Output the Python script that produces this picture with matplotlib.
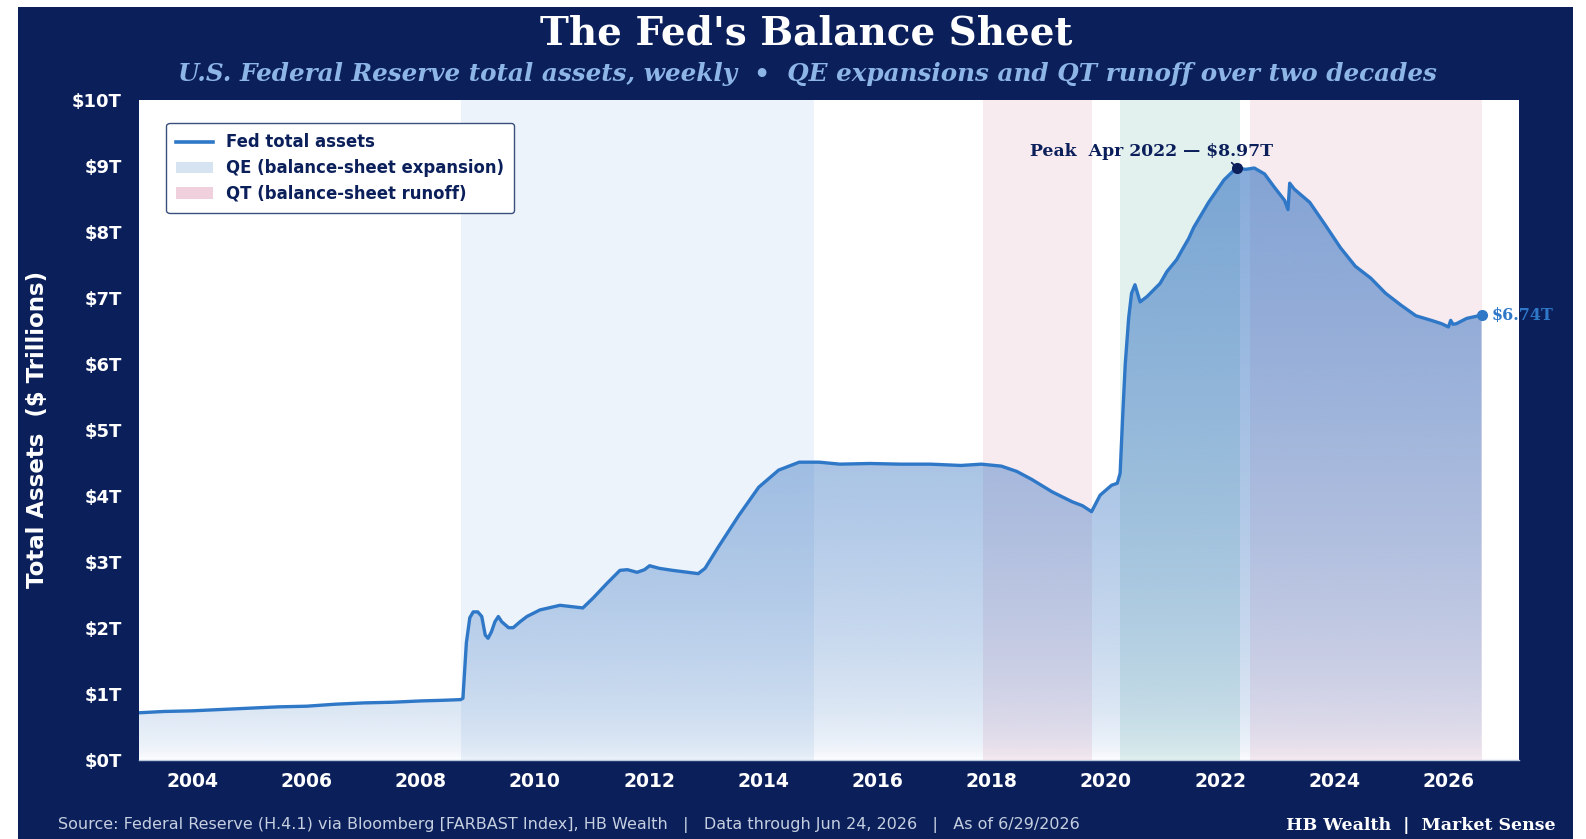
import numpy as np
import matplotlib
matplotlib.use("Agg")
import matplotlib.pyplot as plt
from matplotlib.lines import Line2D
from matplotlib.patches import Patch, PathPatch, Rectangle

# Fed total assets ($T) (decimal years)
dates = [2003.06, 2003.50, 2004.00, 2004.50, 2005.00, 2005.50, 2006.00, 2006.50,
         2007.00, 2007.50, 2008.00, 2008.40, 2008.70, 2008.74, 2008.80, 2008.86,
         2008.92, 2009.00, 2009.07, 2009.13, 2009.18, 2009.24, 2009.30, 2009.36,
         2009.42, 2009.54, 2009.62, 2009.74, 2009.86, 2010.09, 2010.44, 2010.84,
         2011.02, 2011.26, 2011.49, 2011.62, 2011.79, 2011.92, 2012.01, 2012.18,
         2012.41, 2012.68, 2012.86, 2012.98, 2013.21, 2013.57, 2013.92, 2014.27,
         2014.63, 2014.98, 2015.34, 2015.87, 2016.40, 2016.93, 2017.46, 2017.82,
         2018.17, 2018.44, 2018.70, 2019.06, 2019.41, 2019.59, 2019.75, 2019.90,
         2020.10, 2020.20, 2020.25, 2020.30, 2020.34, 2020.40, 2020.45, 2020.51,
         2020.60, 2020.72, 2020.95, 2021.07, 2021.24, 2021.35, 2021.45, 2021.54,
         2021.80, 2022.07, 2022.25, 2022.30, 2022.45, 2022.60, 2022.78, 2022.95,
         2023.13, 2023.19, 2023.22, 2023.30, 2023.57, 2023.84, 2024.11, 2024.37,
         2024.64, 2024.90, 2025.17, 2025.43, 2025.70, 2025.88, 2026.00, 2026.04,
         2026.08, 2026.14, 2026.32, 2026.58]
assets = [0.71, 0.73, 0.74, 0.76, 0.78, 0.80, 0.81, 0.84,
          0.86, 0.87, 0.89, 0.90, 0.91, 0.93, 1.77, 2.15,
          2.24, 2.24, 2.17, 1.89, 1.84, 1.94, 2.09, 2.17,
          2.09, 2.00, 2.00, 2.09, 2.17, 2.27, 2.34, 2.30,
          2.45, 2.67, 2.87, 2.88, 2.84, 2.88, 2.94, 2.90,
          2.87, 2.84, 2.82, 2.90, 3.22, 3.70, 4.13, 4.39,
          4.51, 4.51, 4.48, 4.49, 4.48, 4.48, 4.46, 4.48,
          4.45, 4.37, 4.25, 4.06, 3.91, 3.85, 3.76, 4.01,
          4.16, 4.19, 4.34, 5.30, 6.00, 6.70, 7.07, 7.20,
          6.94, 7.02, 7.22, 7.40, 7.58, 7.75, 7.90, 8.07,
          8.45, 8.79, 8.94, 8.97, 8.95, 8.97, 8.88, 8.68,
          8.48, 8.34, 8.74, 8.65, 8.45, 8.11, 7.76, 7.48,
          7.30, 7.07, 6.89, 6.73, 6.66, 6.61, 6.56, 6.66,
          6.60, 6.61, 6.69, 6.74]

# policy regimes
span_starts = [2008.71, 2017.84, 2020.24, 2022.53]
span_ends = [2014.89, 2019.75, 2022.35, 2026.58]
span_colors = ['#edf3fa', '#f8ebf0', '#e2f1ee', '#f8ebf0']

peak_date, peak_val = 2022.30, 8.97
year_ticks = list(range(2004, 2027, 2))
value_ticks = list(range(0, 11))

NAVY = '#0b1f5b'
LINE = '#2f78c8'

fig = plt.figure(figsize=(15.86, 8.39), dpi=100, facecolor='white')
fig.add_artist(Rectangle((18 / 1586, 0), (1573 - 18) / 1586, 1 - 7 / 839,
                         transform=fig.transFigure, facecolor=NAVY,
                         edgecolor='none', zorder=-10))

ax = fig.add_axes([0.0874, 0.0946, 0.8705, 0.7861])
ax.set_facecolor('white')

for s, e, c in zip(span_starts, span_ends, span_colors):
    ax.axvspan(s, e, color=c, lw=0, zorder=0)

# gradient fill clipped under the curve
poly = ax.fill_between(dates, assets, 0, facecolor='none', edgecolor='none')
clip = PathPatch(poly.get_paths()[0], transform=ax.transData,
                 facecolor='none', edgecolor='none')
ax.add_patch(clip)
yy = np.linspace(0, 10, 400)
grad = np.zeros((len(yy), 1, 4))
grad[:, 0, :3] = matplotlib.colors.to_rgb('#2f6fc0')
grad[:, 0, 3] = np.clip(0.58 * np.sqrt(yy / 9.0), 0, 0.6)
im = ax.imshow(grad, extent=[dates[0], dates[-1], 0, 10], origin='lower',
               aspect='auto', zorder=1, interpolation='bilinear')
im.set_clip_path(clip)

ax.plot(dates, assets, color=LINE, lw=2.4, zorder=3, solid_joinstyle='round')

# peak and latest markers
ax.plot([peak_date], [peak_val], 'o', color=NAVY, ms=7, zorder=5)
ax.annotate('Peak  Apr 2022 — $8.97T', xy=(peak_date, peak_val),
            xytext=(-62, 12), textcoords='offset points', ha='center', va='center',
            fontsize=12.4, fontweight='bold', family='DejaVu Serif', color=NAVY,
            arrowprops=dict(arrowstyle='-', color=NAVY, lw=1.2,
                            relpos=(0.82, 0.0), shrinkA=0, shrinkB=2), zorder=6)
ax.plot([dates[-1]], [assets[-1]], 'o', color=LINE, ms=7, zorder=5, clip_on=False)
ax.annotate(f'${assets[-1]:.2f}T', xy=(dates[-1], assets[-1]), xytext=(7, 0),
            textcoords='offset points', ha='left', va='center', fontsize=11.5,
            fontweight='bold', family='DejaVu Serif', color=LINE,
            annotation_clip=False, zorder=6)

ax.set_xlim(2003.06, 2027.24)
ax.set_ylim(0, 10)
ax.set_xticks(year_ticks)
ax.set_xticklabels([str(y) for y in year_ticks])
ax.set_yticks(value_ticks)
ax.set_yticklabels([f'${v}T' for v in value_ticks])
ax.tick_params(length=0, colors='white', labelsize=13)
ax.tick_params(axis='x', pad=9, labelsize=13.5)
ax.tick_params(axis='y', pad=12)
for lab in ax.get_xticklabels() + ax.get_yticklabels():
    lab.set_fontweight('bold')
for side in ['top', 'right', 'left']:
    ax.spines[side].set_visible(False)
ax.spines['bottom'].set_color('#b9c7dc')
ax.spines['bottom'].set_linewidth(1.0)

ax.set_ylabel('Total Assets  ($ Trillions)', color='white', fontsize=16.5,
              fontweight='bold')
ax.yaxis.set_label_coords(-0.065, 0.5)

handles = [Line2D([0], [0], color=LINE, lw=2.6),
           Patch(facecolor='#d6e4f2', edgecolor='none'),
           Patch(facecolor='#f0d0dc', edgecolor='none')]
labels = ['Fed total assets', 'QE (balance-sheet expansion)', 'QT (balance-sheet runoff)']
leg = ax.legend(handles, labels, loc='upper left', bbox_to_anchor=(0.02, 0.965),
                borderaxespad=0, frameon=True, fancybox=True,
                prop={'weight': 'bold', 'size': 11.9}, labelcolor=NAVY,
                borderpad=0.62, handlelength=2.2, labelspacing=0.47)
leg.get_frame().set_edgecolor('#3b4f7e')
leg.get_frame().set_linewidth(1.0)
leg.get_frame().set_alpha(1)
leg.set_zorder(10)

fig.text(0.508, 0.960, "The Fed's Balance Sheet", ha='center', va='center',
         color='white', fontsize=28, fontweight='bold', family='DejaVu Serif')
fig.text(0.509, 0.912,
         'U.S. Federal Reserve total assets, weekly  •  QE expansions and QT runoff over two decades',
         ha='center', va='center', color='#8db5e6', fontsize=17.7,
         fontweight='bold', style='italic', family='DejaVu Serif')
fig.text(0.0364, 0.0162,
         'Source: Federal Reserve (H.4.1) via Bloomberg [FARBAST Index], HB Wealth   |   '
         'Data through Jun 24, 2026   |   As of 6/29/2026',
         ha='left', va='center', color='#c5cfe0', fontsize=11.5)
fig.text(0.981, 0.0162, 'HB Wealth  |  Market Sense', ha='right', va='center',
         color='white', fontsize=12.5, fontweight='bold', family='DejaVu Serif')

fig.savefig('out.png', dpi=100, facecolor=fig.get_facecolor())
